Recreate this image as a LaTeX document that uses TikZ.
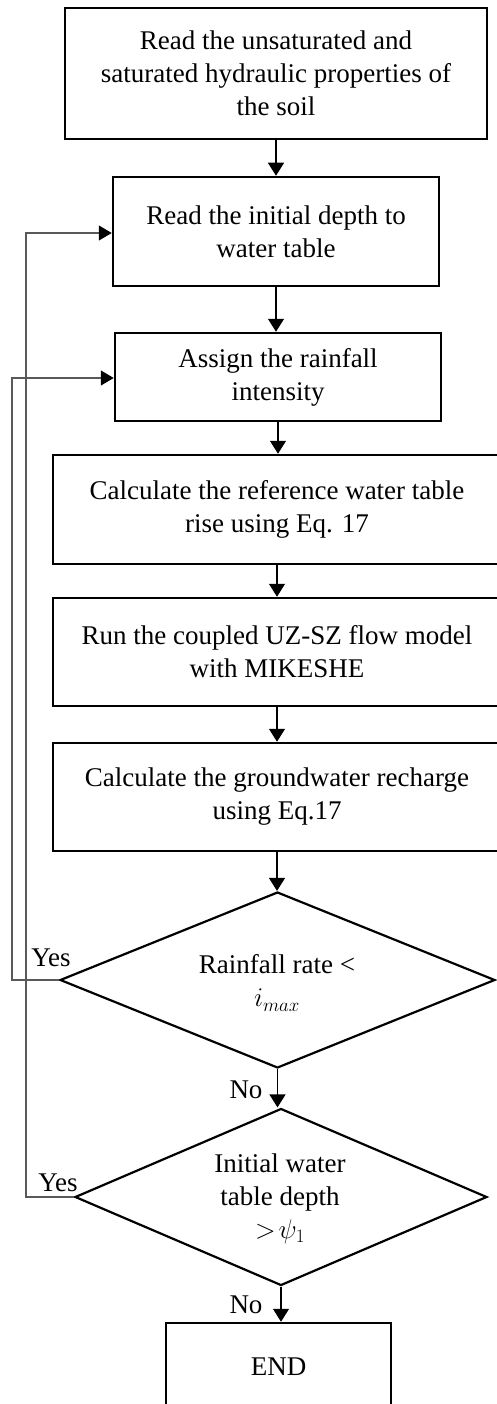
\documentclass[tikz,border=0pt]{standalone}
\usepackage{fix-cm}
\usepackage{fontspec}
\setmainfont{Liberation Serif}
\usetikzlibrary{arrows.meta,shapes.geometric}
\begin{document}
\begin{tikzpicture}[x=1pt,y=-1pt,
 box/.style={draw,line width=2.5pt,inner sep=0pt,align=center,font=\fontsize{27}{33}\selectfont},
 dia/.style={draw,diamond,line width=2.2pt,inner sep=0pt},
 txt/.style={align=center,inner sep=0pt,font=\fontsize{27}{33}\selectfont},
 arr/.style={line width=1.3pt,-{Triangle[length=13pt,width=16pt]}},
 loopline/.style={line width=1.3pt,draw=black!65,-{Triangle[length=13pt,width=15pt,fill=black,color=black]}},
 lbl/.style={inner sep=0pt,font=\fontsize{27}{33}\selectfont}]
\useasboundingbox (0,0) rectangle (496,1404);

\node[box,minimum width=422pt,minimum height=131pt] (b1) at (276,73.5) {Read the unsaturated and\\saturated hydraulic properties of\\the soil};
\node[box,minimum width=326pt,minimum height=109pt] (b2) at (276,231.5) {Read the initial depth to\\water table};
\node[box,minimum width=326pt,minimum height=88pt] (b3) at (278,377) {Assign the rainfall\\intensity};
\node[box,minimum width=448pt,minimum height=109pt] (b4) at (277,509.5) {Calculate the reference water table\\rise using Eq. 17};
\node[box,minimum width=448pt,minimum height=108pt] (b5) at (277,652) {Run the coupled UZ-SZ flow model\\with MIKESHE};
\node[box,minimum width=448pt,minimum height=108pt] (b6) at (277,797) {Calculate the groundwater recharge\\using Eq.17};
\node[dia,minimum width=435pt,minimum height=176pt] (d1) at (277.5,980) {};
\node[txt] (d1t) at (277,983) {Rainfall rate <\\$i_{max}$};
\node[dia,minimum width=412pt,minimum height=177pt] (d2) at (281,1197) {};
\node[txt] (d2t) at (280,1199) {Initial water\\table depth\\$>\!\psi_1$};
\node[box,minimum width=225pt,minimum height=88pt] (e) at (278.5,1367) {END};

\draw[arr] (b1.south) -- (b1.south |- b2.north);
\draw[arr] (b2.south) -- (b2.south |- b3.north);
\draw[arr] (b3.south) -- (b3.south |- b4.north);
\draw[arr] (b4.south) -- (b4.south |- b5.north);
\draw[arr] (b5.south) -- (b5.south |- b6.north);
\draw[arr] (b6.south) -- (b6.south |- d1.north);
\draw[arr] (d1.south) -- (d1.south |- d2.north);
\draw[arr] (d2.south) -- (d2.south |- e.north);

\coordinate (c1) at (26,233);
\coordinate (c2) at (12,378);
\draw[loopline] (d2.west) -| (c1) -- (c1 -| b2.west);
\draw[loopline] (d1.west) -| (c2) -- (c2 -| b3.west);

\node[lbl] (y1) at (51,958) {Yes};
\node[lbl] (y2) at (58,1183) {Yes};
\node[lbl] (n1) at (246,1090) {No};
\node[lbl] (n2) at (246,1305) {No};
\end{tikzpicture}
\end{document}
